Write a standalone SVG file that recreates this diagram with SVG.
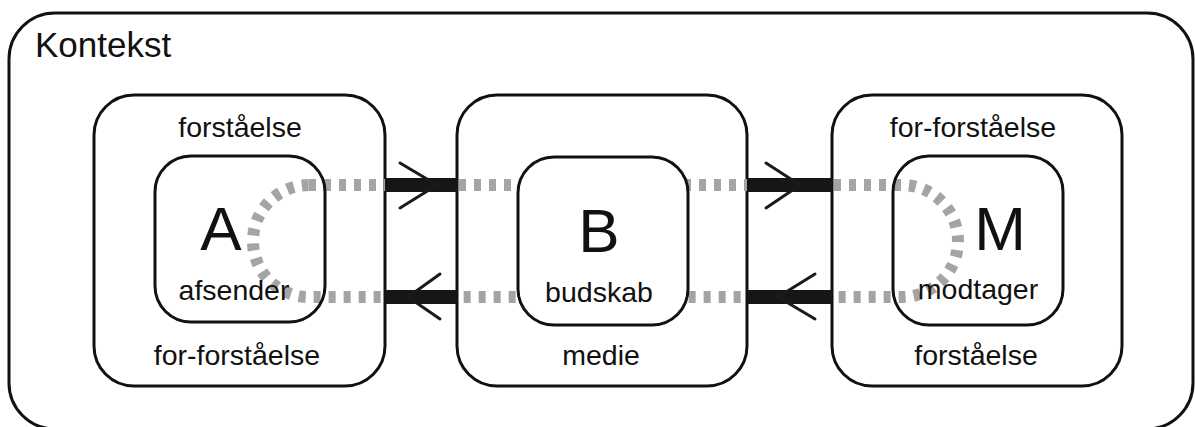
<svg xmlns="http://www.w3.org/2000/svg" width="1195" height="427" viewBox="0 0 1195 427">
  <style>
    .frame { fill: none; stroke: #111; stroke-width: 3; }
    .inner { fill: none; stroke: #111; stroke-width: 3; }
    .label { font-family: "Liberation Sans", Arial, sans-serif; fill: #111; text-anchor: middle; }
    .small { font-size: 28.5px; }
    .big { font-size: 62px; }
    .flow { fill: none; stroke: #a4a4a4; stroke-width: 12; stroke-dasharray: 7 8; }
    .bar { fill: #161616; }
    .chev { fill: none; stroke: #1a1a1a; stroke-width: 3; stroke-linecap: round; stroke-linejoin: miter; }
  </style>
  <rect width="1195" height="427" fill="#fff"/>

  <!-- surrounding context -->
  <g id="kontekst">
    <rect class="frame" x="9" y="13" width="1184" height="416" rx="46" ry="46"/>
    <text class="label" x="35" y="57" font-size="35" style="text-anchor:start">Kontekst</text>
  </g>

  <!-- outer boxes -->
  <g id="afsender-ramme">
    <rect class="frame" x="94" y="95" width="291" height="291" rx="40" ry="40"/>
    <text class="label small" x="240" y="137">forståelse</text>
    <text class="label small" x="237" y="365">for-forståelse</text>
  </g>
  <g id="medie-ramme">
    <rect class="frame" x="457" y="95" width="290" height="291" rx="40" ry="40"/>
    <text class="label small" x="601" y="365">medie</text>
  </g>
  <g id="modtager-ramme">
    <rect class="frame" x="832" y="95" width="290" height="291" rx="40" ry="40"/>
    <text class="label small" x="973" y="137">for-forståelse</text>
    <text class="label small" x="976" y="365">forståelse</text>
  </g>

  <!-- connectors: dotted circulation loop and the arrow bars -->
  <g id="forbindelser">
    <path class="flow" d="M 309 185 L 902 185 A 56 56 0 0 1 902 297 L 309 297 A 56 56 0 0 1 309 185 Z"/>
    <rect class="bar" x="385" y="178" width="72" height="14"/>
    <rect class="bar" x="385" y="290" width="72" height="14"/>
    <rect class="bar" x="747" y="178" width="85" height="14"/>
    <rect class="bar" x="747" y="290" width="85" height="14"/>
    <polyline class="chev" points="400,163 437,185 400,208"/>
    <polyline class="chev" points="440,274 408,297 440,319"/>
    <polyline class="chev" points="766,163 800,185 766,208"/>
    <polyline class="chev" points="815,274 778,297 815,319"/>
  </g>

  <!-- inner nodes -->
  <g id="A">
    <rect class="inner" x="155" y="156" width="170" height="166" rx="36" ry="36"/>
    <text class="label big" x="221" y="250">A</text>
    <text class="label small" x="234" y="300">afsender</text>
  </g>
  <g id="B">
    <rect x="518" y="157" width="170" height="168" rx="36" ry="36" fill="#fff" stroke="#111" stroke-width="3"/>
    <text class="label big" x="599" y="252">B</text>
    <text class="label small" x="599" y="302">budskab</text>
  </g>
  <g id="M">
    <rect class="inner" x="893" y="156" width="170" height="169" rx="36" ry="36"/>
    <text class="label big" x="1000" y="250">M</text>
    <text class="label small" x="978" y="299">modtager</text>
  </g>
</svg>
